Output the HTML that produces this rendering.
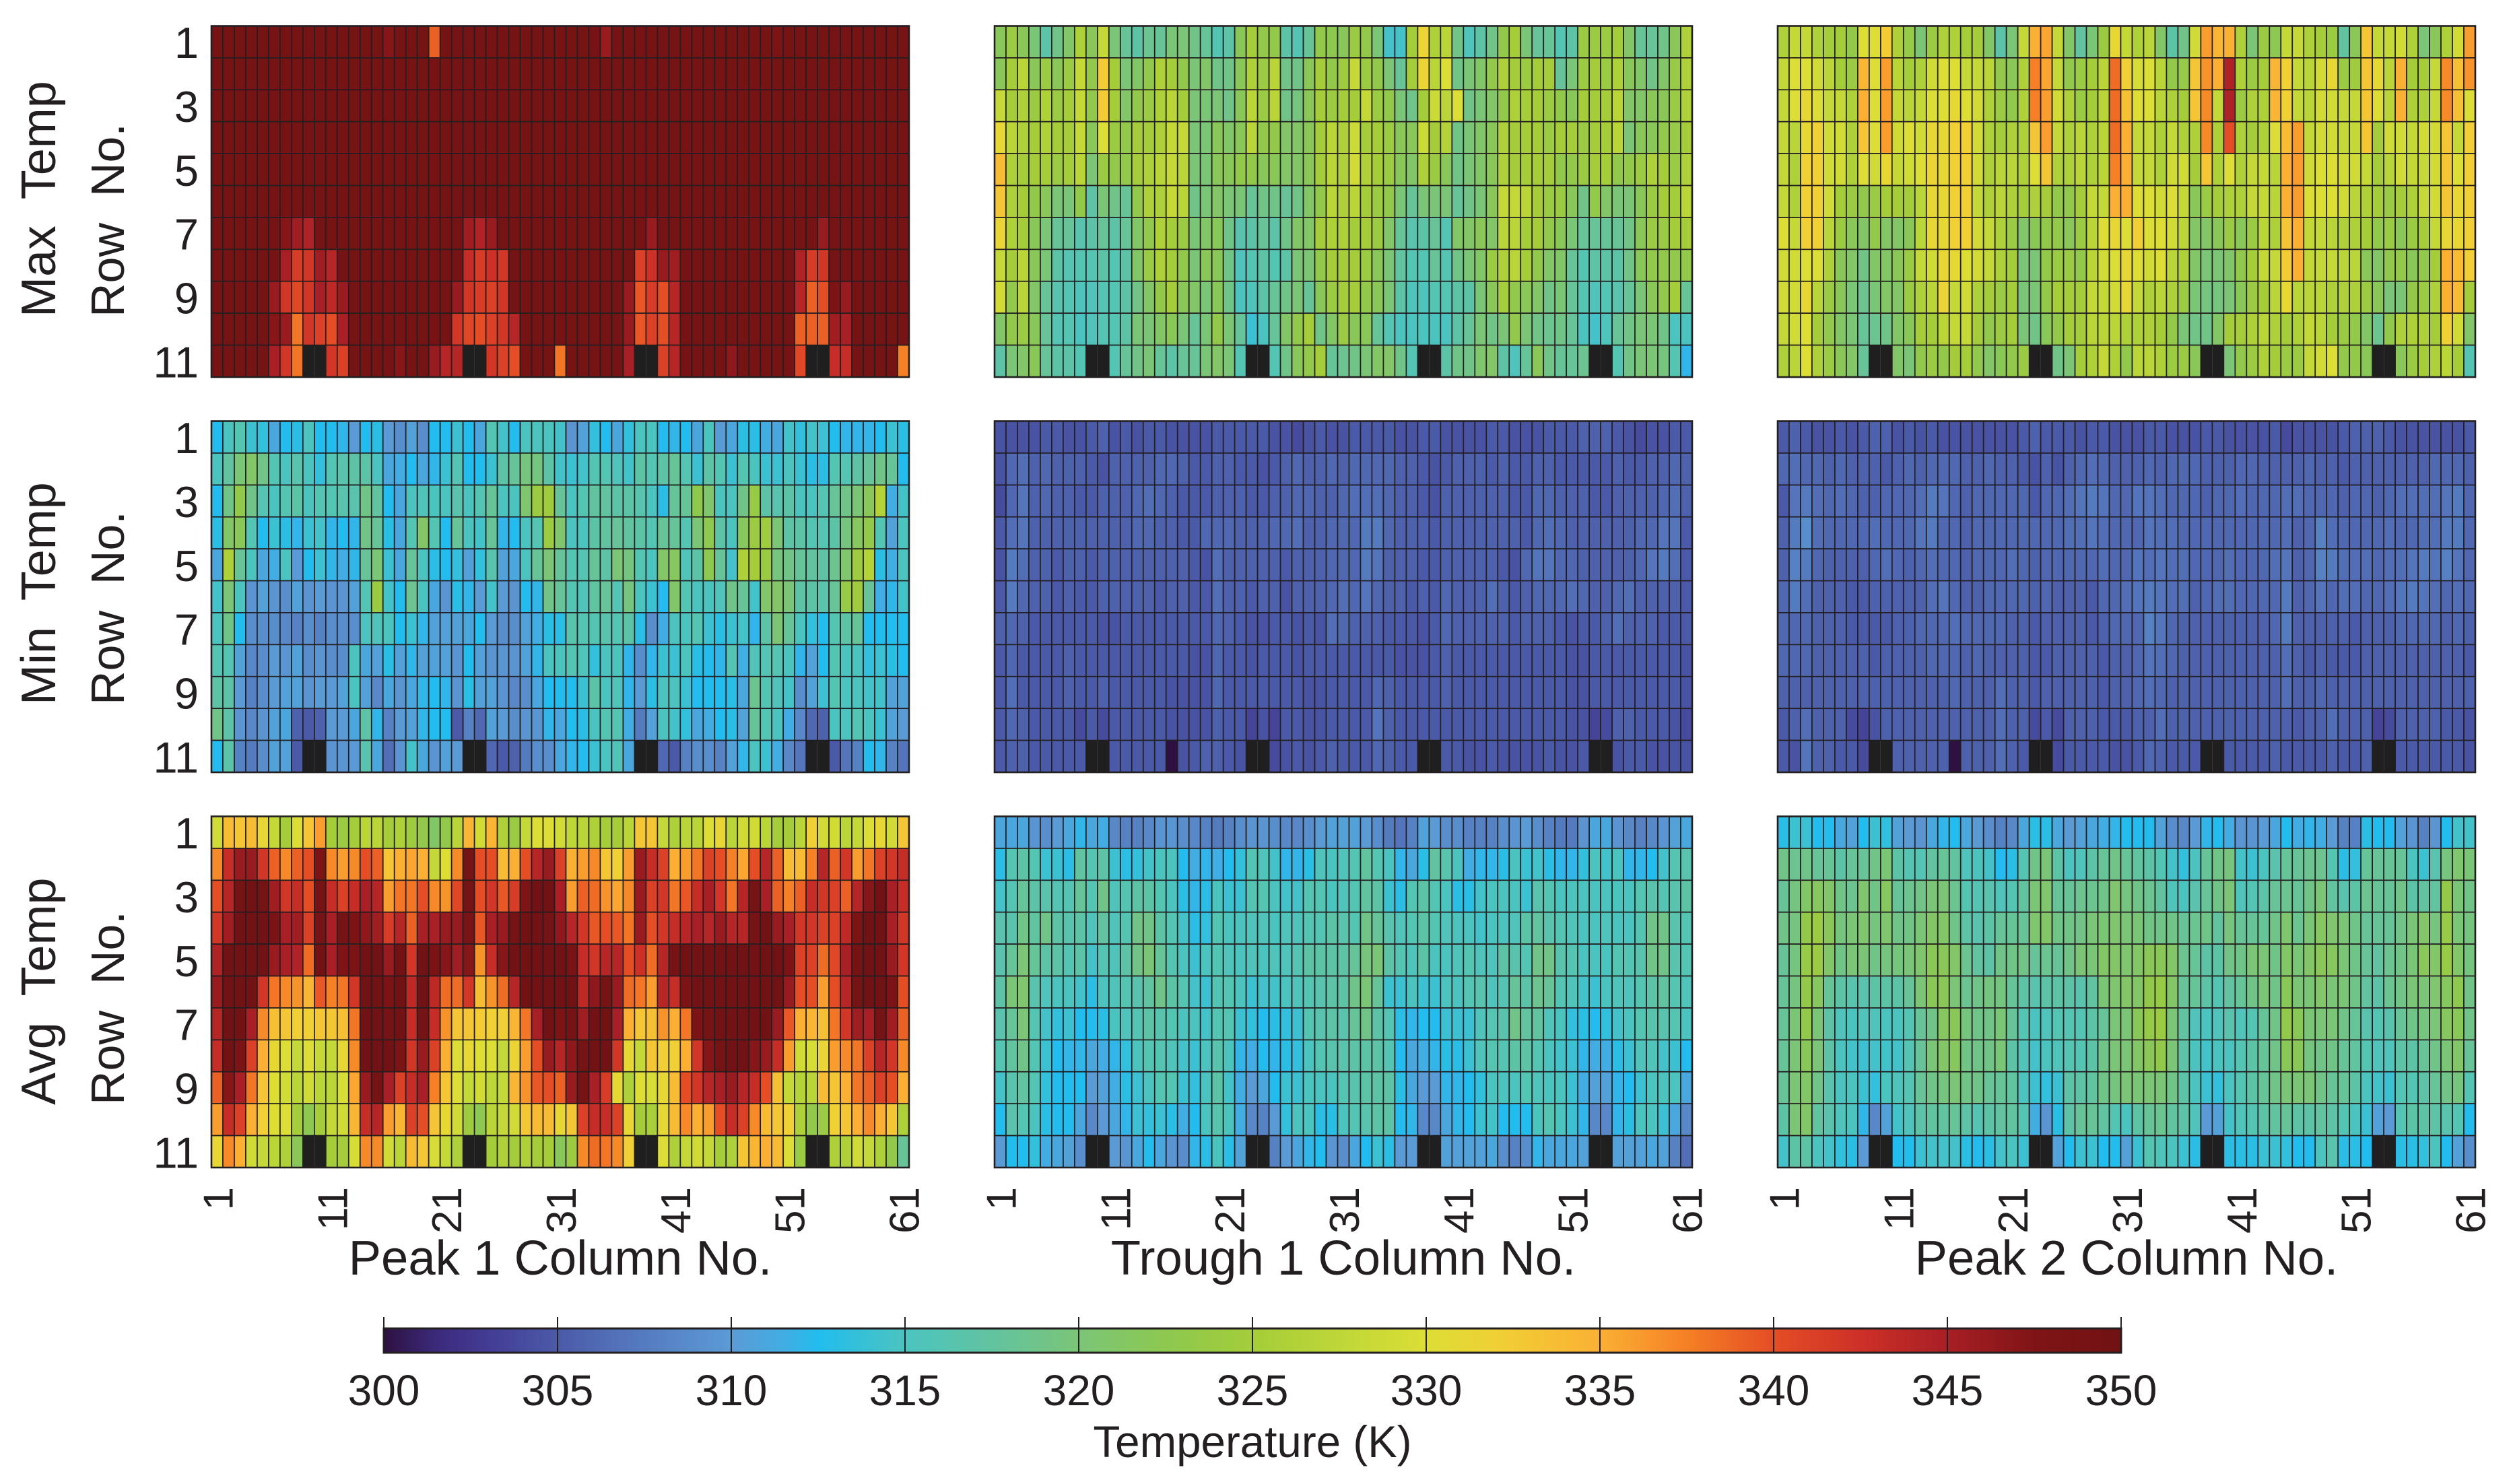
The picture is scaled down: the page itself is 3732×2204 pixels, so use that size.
<!DOCTYPE html>
<html lang="en">
<head>
<meta charset="utf-8">
<title>Temperature heatmaps</title>
<style>
html,body{margin:0;padding:0;background:#fff}
svg{display:block}
text{font-family:"Liberation Sans",sans-serif;fill:#231f20;white-space:pre}
</style>
</head>
<body>
<svg id="chart" xmlns="http://www.w3.org/2000/svg" width="3732" height="2204" viewBox="0 0 3732 2204">
<rect x="0" y="0" width="3732" height="2204" fill="#ffffff"/>
<defs><linearGradient id="cbar-gradient" x1="0" x2="1" y1="0" y2="0"></linearGradient></defs>
<g id="panels"></g>
<g id="labels"></g>
<g id="colorbar"></g>
</svg>
<script>
const rowTickLabels = [1, 3, 5, 7, 9, 11];
const columnTickLabels = [1, 11, 21, 31, 41, 51, 61];
const colorbarTicks = [300, 305, 310, 315, 320, 325, 330, 335, 340, 345, 350];
const columnTitles = ["Peak 1 Column No.", "Trough 1 Column No.", "Peak 2 Column No."];
const rowTitles = ["Max  Temp", "Min  Temp", "Avg  Temp"];
const colormap = [[300,"#2e1140"],[301.5,"#3b2a7c"],[303,"#433c94"],[305,"#4b5aa8"],[307,"#5475bb"],[310,"#5b9bd5"],[311.5,"#42ade2"],[312.5,"#22bdee"],[315,"#4bc4c0"],[317.5,"#62c3a0"],[320,"#7bc577"],[322.5,"#8dc850"],[325,"#a4cd39"],[327.5,"#bed738"],[330,"#dcde35"],[332,"#f0d035"],[335,"#fbb034"],[337.5,"#f58025"],[340,"#e54d25"],[342.5,"#cd3027"],[345,"#a81f25"],[347.5,"#7f1416"],[350,"#701213"]];

const maxPeak1 = [
[349,349,349,349,349,349,349,349,349,349, 349,349,349,349,349,347,349,349,349,339, 349,349,349,349,349,349,349,349,349,349, 349,349,349,349,346,349,349,349,349,349, 349,349,349,349,349,349,349,349,349,348, 349,349,349,349,349,349,349,349,349,349,349],
[349,349,349,349,349,349,349,349,349,349, 349,349,349,349,349,349,349,349,349,349, 349,349,349,349,349,349,349,349,349,349, 349,349,349,349,349,349,349,349,349,349, 349,349,349,349,349,349,349,349,349,349, 349,349,349,349,349,349,349,349,349,349,349],
[349,349,349,349,349,349,349,349,349,349, 349,349,349,349,349,349,349,349,349,349, 349,349,349,349,349,349,349,349,349,349, 349,349,349,349,349,349,349,349,349,349, 349,349,349,349,349,349,349,349,349,349, 349,349,349,349,349,349,349,349,349,349,349],
[349,349,349,349,349,349,349,349,349,349, 349,349,349,349,349,349,349,349,349,349, 349,349,349,349,349,349,349,349,349,349, 349,349,349,349,349,349,349,349,349,349, 349,349,349,349,349,349,349,349,349,349, 349,349,349,349,349,349,349,349,349,349,349],
[349,349,349,349,349,349,349,349,349,349, 349,349,349,349,349,349,349,349,349,349, 349,349,349,349,349,349,349,349,349,349, 349,349,349,349,349,349,349,349,349,349, 349,349,349,349,349,349,349,349,349,349, 349,349,349,349,349,349,349,349,349,349,349],
[349,349,349,349,349,349,349,349,349,349, 349,349,349,349,349,349,349,349,349,349, 349,349,349,349,349,349,349,349,349,349, 349,349,349,349,349,349,349,349,349,349, 349,349,349,349,349,349,349,349,349,349, 349,349,349,349,349,349,349,349,349,349,349],
[349,349,349,349,349,349,347,345.5,344.5,349, 349,349,349,349,349,349,349,349,349,349, 349,349,345.5,344.5,346,349,349,349,349,349, 349,349,349,349,349,349,349,349,346,349, 349,349,349,349,349,349,349,349,349,349, 349,349,349,346,349,349,349,349,349,349,349],
[349,349,349,349,349,349,345,341.5,342,345.5, 344,349,349,349,349,349,349,349,349,349, 349,349,343,341.5,342.5,342,349,349,349,349, 349,349,349,349,349,349,349,341,342.5,346, 345.5,349,349,349,349,349,349,349,349,349, 349,344.5,341.5,342,349,349,349,349,349,349,349],
[349,349,349,349,349,346,342,340.5,342,345, 343.5,346,349,349,349,349,349,349,349,349, 349,346,342,341.5,341,342,349,349,349,349, 349,349,349,349,349,349,346,339.5,341.5,340, 344,349,349,349,349,349,349,349,349,349, 349,344,339,340,348,346,349,349,349,349,349],
[349,349,349,349,349,347,346,338,342,341, 340,345,349,349,349,349,349,349,349,349, 349,342,340.5,340,341,342,344,349,349,349, 349,349,349,349,349,349,346,339.5,341,340, 344,349,349,349,349,349,349,349,349,349, 349,339,339,339,345.5,345,349,349,349,349,349],
[349,349,349,349,349,345,342,338,null,null, 342,341,349,349,349,349,347,349,349,346, 344,344,null,null,342,341,340,349,349,349, 338,349,349,349,349,349,345,null,null,341, 344,349,349,349,349,346.5,349,349,349,349, 349,340.5,null,null,343,343,349,349,349,349,337.5]
];

const maxTrough1 = [
[322,324,322,320,317,319,321,326,322,328, 320,318,317,318.5,318,320,320,319,318,316, 317,322,325,323,323,317,316,318,323,322.5, 322,324,323,320,314.5,314.5,325,331.5,326,327, 319,315.5,317,319,323,325,320,318,318,316, 317,324,324,324,325,321,318,318,319,322,326],
[322,325,327,322,324,322,324,328,323,332.5, 325,320,321,323,326,325,323,320,321,319, 319,322,326,324,327,319,319,322,325,323, 324.5,328,324,323,320,318,325,331.5,327,330, 319,320,321,323,326,325,324,325,325,318, 320,324,325,324,326,322,321,319,321,323.5,326],
[328,325,326,324,326,324,325,328,323,332.5, 325,321,323,324,326,327,325,320,320,320, 319,322,327,324,327,319,319.5,322,325,324, 325,325,328,324,323,320,319,325,328.5,327, 330,319,320,321,323,326,325,325,324,323, 322,325,325,325,327,321,321,322,322,324,326],
[331,327,326,325,326,325,325,328,322,330, 324,323,325,325,326,328,328,320,320,322, 321,322,327,323,323,321,321,322,325,327, 326,328.5,325,325,324,322,322,328.5,325,326.5, 319,320,321,322,326,325,325,325,324,325, 325,324,325,325,327,320,322,322,323,323.5,325],
[334,326,325,325,325,324,325,327,320,324, 323,323,325,326,327,328,327,320,320,322, 322,323,323,322,322,321,321,322,325,327, 326,329,326,325,324,322,321,326,324,322, 319,320,321,322,326,325,325,325,325,323, 323,324,325,325,323,323,324,326,325,324,326],
[333,326,325,323,322,320,320,323,317,320, 319,318,323,326,326,328,327,319,320,321, 320,320,318,319,319,318,319,321,323,327, 326,327,325,324,323,320,318,320,320,320, 318,319,320,322,328,328,327,325,324,324, 322,319,323,321,320,320,322,324,325,325,327],
[331.5,326,325,322,320,318,318,316.5,317,318, 317,318,321,323,326,325,324,320,321,322, 319,316.5,317,318,317,319,321,321,325,326, 326,325,325,324,321,318,316.5,317,318,316, 321,321,322,321,327,327,325,325,323,322, 320,318,318,318,318,319,322,324,324,325,325],
[328,325,327,322,320,317,316,316,316,317, 316,317,321,324,326,325,323,320,322,322, 319,315.5,316,317,316,317,320,320,323,325, 325,325,324,322,320,317.5,316,316,318,316, 319,320,321,324,326,327,325,323,321,321, 318,316,317,317,317,319,322,323,323,323,323],
[329,323,327,321,318,316.5,316,315.5,315.5,316, 316,317,319,321,323,325,322,321,320,322, 319,315,315.5,317,318,319,320,318,322,324, 325,325,323,322,320,317,315.5,315.5,316,316, 317,317,320,322,325,323,322,321,319,320, 318,316,315.5,316,316.5,318,320,322,323,325,318],
[321,323,324,322,318,316,316,315,315.5,316, 316,317,320,320,321,322,320,318,320,323, 320,318,314,315,318,321,323,325,319,321, 324,322,322,318,316,315,315,315,315,315, 317,318,320,319,320,323,320,319,318.5,319, 318,315,314.5,315.5,318,319,320,320,319,315,315],
[317,320,321,322,318,317,317,316,null,null, 316,318,319,320,318,317,318,318,320,321, 320,316,null,null,316,319,322,323,325,318, 318.5,319,320,321,321,319,316,null,null,317, 319,319,320.5,321,317,315.5,318,322,319,318, 318,318.5,null,null,316,319,320,320,319.5,316,312]
];

const maxPeak2 = [
[326,328,328,326,325,325,323,330,330,332.5, 326,323.5,320,324,326,326,325,325,321,317, 320,328,335,335.5,328,321,317.5,320,324,331, 328,326,327,321,317,319,329,336,334.5,335, 326,320,324,322.5,328,328,326,325,324,317.5, 322,333,328,328,329,326,320,322,326,329,336],
[328,330,330,329,327,325,324,334.5,330,336, 327,325,326,329,330,330,328,328,327,323, 322,326,337.5,335.5,328,323,324,325,327,338.5, 332,329.5,330,327,323,323.5,333,336.5,335,344.5, 326,324,325,334.5,332,328,327,329,331,324, 324.5,333,331,327,335,325,325,328,337,333.5,336.5],
[328,330,331,330,328,328,326,335,330,336, 328,327,328,330,330,331,330,329,326,324, 323,326,337.5,336,329,326,324,325,327,338.5, 333.5,330,330,327,326,325,333,337,328,344.5, 324,326,326,334.5,332,328,327,329,329,328, 328,333,330,327,335,326,326,328,337,333.5,330],
[328,327,331,332,329,329,326,333,330,336, 329,330,329,331,331,332,332,329,326,325, 326,326,333,336,328,326,327,326,327,338.5, 335,328,328,326,328,326,326,337,326,340, 326,325,326,330,334,336,328,329,329,328, 328,333,325,329,329,328,329,329,333,328,332],
[328,326,332,332,329,329,326,330,329,331, 328,329,330,331.5,331,332,332,329,326,327, 327,326,330,333,326,326,327,326,327,337.5, 335,328,328,326,329,329,325,333,326,330, 326,328,328,327,335,336,329,330,330,329, 329,328,325,327,329,328,328,329,333,330,332],
[328,326,332,332,329,325,324,323,324,325, 325,325,327,331,331,332,332,328,326,327, 326,325,326,325,323,323,325,328,328,335, 335,330,330,329,330,328,322,324,325,326, 326,328,328,327,335,336,330,330,330,329, 327,326,325,324,325,326,328,329,333,331,332],
[330,328,332,332,327,324,322,321,323,321, 321,322,327,331,331,332,332,329,328,326, 324,321,322,323,323,322,324,327,330,331, 330,332,330,330,329,327,321,321,322,324, 322,324,327,326,333,335,328,328,327,326, 326,325,323,324,322,324,325,328,331,331,332],
[329,329,330,330,326,322,321,319,321,321, 322,324,328,329,331,331,330,329,328,326, 325,320,320,323,324,324,323,327,329,330, 331,330,329,330,327,326,321,320,320,321, 323,325,328,328,332.5,335,328,328,328,327, 327,322,321,323,323,322,323,325,335,334,332],
[329,329,331,327,324,322,320,318.5,320,321, 321,324,326,327,331.5,328,329,326,325,324, 325,320,320,323,325,325,325,328,328,329, 331,328,326,327,326,324,320,319.5,319.5,320, 322,324,325,327,331,327,327,327,326,326, 326,324,322,320,320,323,324,326,335,334,325],
[328,329,330,325,323,321,320,318,318.5,319, 321,322,325,325,327,328,328,325,323,324, 325,320,319,322,323,325,325,327,327,327, 326,326,326,325,323,320,319,319,321,325, 325,326,327,326,325,326,328,327,325,324, 323,321,318.5,323,326,326,326,325,332,329,321],
[326,327,330,326,324,322,321,318,null,null, 321,320,323,324,323,325,325,323,321,322, 323,324,null,null,319,320,325,326,328,326, 323,327,327,326,324,324,322,null,null,320, 323,324,326,325,324,324,328,329,330,323, 323,322,null,null,322,324,325,326,327,325,316]
];

const minPeak1 = [
[312.5,315,316,314,313.5,311,312.5,313,315,312.5, 312.5,312,310,312.5,313,310,309,310.5,309,312.5, 312.5,314,312.5,311,316,314.5,312.5,315,315,315, 314.5,309.5,310.5,313.5,312.5,311,313.5,315,315,312.5, 312,312.5,311,315,310,311,313,313,311.5,311, 314.5,313.5,314.5,314,312.5,312,312,312,312.5,314,313],
[315,317.5,320,321,319,316,315,316.5,315,313.5, 316,316.5,317,317,315,311,311.5,312.5,311,312, 314,316,312.5,312.5,314,317,318,319.5,319.5,317, 314.5,314,314.5,316,316,315.5,314.5,317,316,317, 318,316,314,317,316,314,316,315,314,314, 315,314,313,313,316,316,317,318,319,318,312.5],
[312.5,319,323,319,316,315,316,317,315,316, 316,316.5,316.5,319,317.5,312.5,311,315,315.5,315, 315,316.5,315,316,318,315,315,320.5,324,324.5, 318,315,316,317.5,317.5,317,317,316.5,315,313, 318,318,322.5,320.5,315,315,319,323.5,317,316.5, 317,315,315,316,318,319,320,322,326.5,311.5,314.5],
[313,321,322,316,312.5,314,313,312,314,314.5, 312,312.5,312,319,318,313,311,316,321,316, 312.5,318,315,314.5,318,312,312.5,315,316,324, 320.5,315,315,317,317.5,318,317.5,317,316,318, 318,316,320,322.5,317,315,321.5,324,324.5,320, 317,317,316,316,317,319.5,321.5,323,316,310.5,315],
[311,326,318,315,311,311.5,315,310,312.5,314, 312,311.5,312,318,320,314,311,318,315,313, 312.5,313.5,310.5,313.5,316.5,310.5,311,315,318,320, 318,316,316,318,317,320,319.5,316,315,321, 321.5,315.5,317,322.5,318,314.5,326,325,324,319.5, 319,318,317.5,317,318.5,320.5,324.5,326.5,313,311.5,315],
[314.5,320,315,309.5,310.5,309.5,309,310.5,309.5,310, 309.5,309.5,310.5,316,324,314.5,312.5,318.5,315,311, 309.5,313,312,310,314.5,310,309.5,312.5,312,319, 318,316,315.5,317.5,318,316,319.5,315,314,312.5, 321,316,315,315,315.5,319,318,314.5,321,321, 320,317,317,316.5,318,323.5,324.5,318,311.5,312,314.5],
[315,319,312.5,309,309,309,308.5,308,309,308, 309,309,309,315,315.5,315,312.5,314,312,310.5, 310.5,310.5,311,312.5,310,309,309,310.5,311.5,313, 313,316.5,316,316,316.5,316,317,313,309,311.5, 315,315,316,314,313,314,314.5,312,317,320, 318,315,313.5,312.5,316,317,318,312.5,312.5,312.5,312.5],
[316,316,310.5,308.5,309,310,309.5,310.5,309,309.5, 309,309,315,311,310.5,313,310.5,312,310.5,310.5, 310.5,309.5,312.5,310.5,309.5,309.5,309.5,310.5,312,315, 315,316,315.5,313.5,315,315,312,309,312,314, 314,315,313,312.5,312,316,311.5,315.5,316,316, 315,312,310.5,312.5,316,315,315,313.5,314,313,312.5],
[317,317,310,308,309,310,310.5,310.5,309.5,310, 310,310.5,315,310.5,308.5,311,309.5,311,312,312.5, 312,309.5,313,310.5,310.5,309.5,308.5,309,311,312.5, 312.5,312.5,314,317,315,315.5,312,310,313,315, 315,314,312.5,312.5,312.5,313,311,318.5,316,315.5, 314.5,309,310.5,314,316,315,315,314.5,314.5,310.5,310.5],
[319,317,309.5,308.5,309.5,310.5,311,305.5,305,305.5, 310,310,311,317,312,308,310,310.5,312,312.5, 312.5,305,308,306,310.5,310,309,309.5,309.5,312, 311,312.5,313,315,316,316,311.5,307.5,310.5,315, 314.5,313.5,311,311.5,312.5,313,310.5,318,316,315, 311.5,308.5,306,305.5,315,315,316,315,314,310.5,310],
[312.5,317,308,307.5,309,310.5,310.5,305,null,null, 309.5,309.5,310,316.5,311,306.5,309.5,314.5,311,309.5, 310.5,310,null,null,306,305,305.5,307.5,309,309, 311,312,312.5,314,315,315.5,311,null,null,306, 305,308,309,309,308,310.5,312,315,314,311.5, 308.5,307,null,null,305,307,308,312.5,312,308,307]
];

const minTrough1 = [
[304.5,304.5,304.5,304.5,305,305,304.5,304.5,305,305.5, 304.5,305,304.5,305,305,304.5,304.5,304.5,304.5,305, 305,305,305,305,304.5,304.5,304,304.5,305,304.5, 304.5,305,305,305,305,304.5,304.5,305,305,304.5, 304.5,304.5,304.5,305,305,304.5,304.5,304.5,305,305, 305,305.5,305.5,305.5,305,304.5,304,304.5,304.5,305,305],
[304.5,306,306.5,305.5,306,305.5,305.5,305.5,305,304.5, 305.5,305.5,305.5,305.5,306,306,305.5,305,305,305.5, 305.5,305,305,304.5,305,305.5,306,305.5,305.5,306, 305.5,306,306,306,306,305.5,305.5,305,304.5,305, 305.5,305.5,305.5,305,305.5,305,305,305.5,305.5,305, 305,305,305,305,305.5,305,305,305.5,305.5,306,305.5],
[304,306,307,305.5,306,305.5,305.5,305,305,305.5, 305.5,305.5,306,306.5,306,305.5,305,305,305,305.5, 305.5,305.5,305,305,305.5,305.5,306,306,305.5,305.5, 306,306.5,306.5,306.5,306,305.5,305.5,305,304.5,305.5, 305.5,305.5,305.5,305.5,305.5,305,305,306,306,305.5, 305.5,305.5,305,305,305.5,305.5,305.5,305.5,306,306.5,305.5],
[305,306.5,307,305.5,305.5,305.5,305.5,305.5,305.5,305.5, 305.5,305.5,306,306,305.5,305.5,305,305,306,306, 306,305.5,305.5,305.5,306,306,306.5,305.5,305.5,306, 306,306,307.5,307.5,306,305.5,305.5,305.5,305,305.5, 305.5,305.5,305.5,305.5,305.5,305.5,305,306,306.5,306, 305.5,305.5,305.5,305.5,305.5,305.5,306,306,307,307,305],
[304.5,307.5,306.5,305.5,305.5,305,305.5,305.5,305,305.5, 305.5,305.5,305.5,305.5,305.5,305.5,305.5,305,304.5,306.5, 305.5,305.5,305.5,305.5,305.5,305,305.5,305.5,305.5,306, 306,306,307.5,307,305.5,305.5,305.5,305,305,305.5, 305.5,305.5,305.5,305.5,305,304.5,306,307,307,306, 306,305.5,305.5,305.5,305.5,305.5,306,307,307.5,306.5,305],
[305,307.5,306,305.5,305.5,305,305.5,305,305,305.5, 305.5,305.5,305.5,305.5,305,305.5,305.5,305,305,306.5, 305.5,305.5,305,305.5,305.5,304.5,305.5,305.5,305.5,306, 306.5,306,307,306,305.5,305.5,305,305.5,305,306, 305.5,305.5,305.5,306.5,305.5,305,305.5,306,306,306, 306.5,306,305.5,305.5,306,306.5,305.5,305.5,305.5,305.5,305],
[305.5,306,305.5,305,305,305,305,305,305,304.5, 304.5,305,305,305,305,305,305,305,305,306, 305.5,305,304.5,304.5,305,305,304.5,305,304.5,306.5, 306,305.5,305.5,305.5,305,305,305,304.5,305,306, 305.5,305.5,305.5,305.5,305.5,305,305.5,305.5,305.5,305, 304.5,305,305,305.5,306.5,305.5,305.5,305.5,305,305,305],
[305,306,305,305,305,305,305.5,305,305,305, 305,305,305,305,305,305,305,304.5,304.5,306, 305,305,304.5,305,305,305,304.5,305,305,305, 305,305,305,305,305,304.5,304.5,304.5,305,305.5, 305,305,305,305,305,305,305,305,305,305, 304.5,304.5,305,305,305,305,305,305,305,305,304.5],
[305,306.5,305,305,305,305,305.5,305,305,305.5, 305,305,305,305,305,304.5,304.5,304.5,304.5,306, 305,305,305,305,305,305,305,304.5,304.5,305, 305,305,305,306,305.5,305,305,305,305,305.5, 305,305,305,305,305,305,305,305,305,305, 304.5,304.5,305,305,305,305,305,305,305,305,304.5],
[305,306,305.5,305,305,305,305,304,305,304, 305,305,305,305,305,304.5,304.5,304.5,304.5,305.5, 305,305,303.5,304.5,303.5,305,305,304.5,304.5,305, 305,305,305,307,305.5,305,305,305,305,305, 305,305,305,305,305,305,305,305,305,305, 304.5,304.5,303.5,304,305.5,305.5,305,305,305,304.5,304],
[305,305.5,305.5,305,305,305,305,305,null,null, 305,305,305,305,305,300,304.5,305,305.5,305.5, 305,304.5,null,null,304,304.5,305,304.5,305,305.5, 305,305,305,306,305.5,305,305,null,null,305, 305,304.5,304.5,305,304.5,304.5,304.5,304.5,305,304.5, 304.5,305,null,null,304.5,305,305,304.5,304.5,304.5,304.5]
];

const minPeak2 = [
[305,305.5,305,304.5,304.5,305,304.5,305,305.5,305.5, 304.5,305,304.5,305,304.5,304.5,304.5,304.5,304.5,304.5, 304.5,305,305.5,305,305,305,304.5,305,305,304.5, 304.5,304.5,305,305,304.5,304.5,304.5,305,305,304.5, 304.5,304.5,304.5,305,304,304.5,304.5,304.5,304.5,305, 305.5,305.5,305.5,305,304.5,304.5,304.5,304.5,304.5,304.5,305],
[306,306.5,306,306,305.5,306,305.5,305.5,305.5,305, 305.5,306,305.5,306,306,306,305.5,305.5,306,305.5, 305.5,305,304.5,305.5,304.5,305.5,306,306.5,306,305.5, 305.5,305.5,306,305.5,306,306,306,305.5,305.5,305.5, 306,306,305.5,305.5,305.5,305.5,306,305.5,305.5,305, 305.5,305.5,305.5,305.5,305.5,305.5,305.5,306,306,306,305.5],
[305,307,307.5,306.5,306,306.5,306,305.5,305.5,306, 306,306,306.5,307.5,307,306,305.5,306,306,306, 306,306,305,306,306,306.5,307,307.5,307,306, 306,307,307,306.5,306,306,306,305.5,306,306, 306.5,306,306,306,306.5,306.5,306,306,306,305.5, 306,306,305.5,306,306.5,306.5,306.5,306.5,307,307.5,306],
[305.5,307.5,309,306.5,306,306,306,306,306.5,306, 306,306,307,307.5,306,306,305.5,306,306,306, 306,306,306,306,306,306.5,306.5,307,306.5,306, 306,306,307,306.5,306.5,306,306,306,306,306, 306,306,306,306,306.5,305.5,306,308,306.5,306, 306,306,306,306.5,306,306,306.5,306.5,307.5,307.5,306],
[305.5,308,307.5,306,305.5,305.5,305.5,305.5,306,306.5, 306,305.5,306,306.5,306,306,305.5,306,306,306, 306.5,306,305.5,306,306,306,306,306,306.5,306, 306,307,306.5,307,306.5,306.5,306,306,306,306.5, 306,306,306,306.5,307,305.5,306,308,307.5,306.5, 306.5,306.5,306,306.5,306.5,307,307.5,307,308,307,306],
[306,307.5,306.5,305.5,305.5,305.5,305,305,305.5,305.5, 305.5,305.5,305.5,306.5,307,306,305.5,305.5,306,306, 306,306,305.5,306,305.5,305.5,305.5,305,306,306, 306.5,307,307.5,307,306.5,306.5,305.5,306,306.5,306.5, 306,306,306,306,307.5,305.5,306,307,306,306.5, 306.5,306,306,306.5,307,307.5,307,306.5,306,306.5,306],
[306,306,306,305.5,305.5,305.5,305,305,305,305, 305.5,305.5,306,306,306,306.5,306,306,306,306, 305.5,305.5,305,305.5,305.5,305.5,305.5,305,305.5,306, 306,306,308,307,306,305.5,305.5,305.5,305.5,305.5, 305.5,305.5,305.5,306,307.5,305.5,305.5,305.5,305.5,305.5, 305,305.5,305.5,305.5,306,306,306,306,305.5,306,305.5],
[306,306,306,305.5,305.5,305.5,305.5,305.5,305,305.5, 305.5,305.5,305.5,306,306,306,305.5,306,305.5,305.5, 305.5,305.5,305,305,305.5,305.5,305.5,305.5,305,305.5, 305.5,306,307,306.5,306,305.5,305.5,305.5,305.5,305.5, 305.5,305.5,305.5,305.5,306.5,305.5,305,305.5,305,305, 305,305.5,305.5,305.5,305.5,305.5,305.5,305.5,305.5,305.5,305],
[305.5,305.5,305.5,305.5,305.5,305.5,305.5,305.5,305.5,305.5, 305.5,305.5,305.5,305.5,305.5,306,305.5,305.5,305.5,306.5, 305.5,305.5,305,305.5,305.5,305.5,305.5,305.5,305,305.5, 305.5,306,306.5,306,305.5,305.5,305.5,305.5,305.5,305.5, 305.5,305.5,305.5,305.5,306.5,305.5,305.5,306,305.5,305.5, 305.5,305.5,305.5,305.5,305.5,305.5,305.5,305.5,305.5,305.5,305.5],
[305,305.5,306.5,305.5,305.5,305.5,304,303.5,304.5,305.5, 305.5,305.5,305.5,305.5,305.5,305.5,305.5,305.5,305.5,306.5, 305.5,305.5,304,305,304,305.5,305.5,305.5,305,305, 305,305.5,305.5,306.5,305.5,305.5,305.5,305.5,305.5,305.5, 305.5,305.5,305.5,305.5,305.5,305,305.5,305.5,306.5,305.5, 305.5,305.5,303.5,304,305.5,305.5,305.5,305.5,305,305,304.5],
[305,304.5,307,305.5,305.5,305,305,304,null,null, 305.5,305.5,305.5,305.5,305.5,300,305.5,305.5,305.5,306.5, 305.5,305,null,null,304,305,305,305,305,304.5, 304.5,305,306,305.5,305,305,305,null,null,305, 305,305,305,305.5,305,305,305,305,305.5,305, 305,305.5,null,null,305,305,305,305,305,305,304.5]
];

const avgPeak1 = [
[329,334,333,334,331,328,325,330,333,336, 325,324,325,327,327,325,326,324.5,323,321, 323,327,334.5,329,334.5,326,324,328,330,330, 329,327.5,327,326,325,325,327,333,333,328, 326,327,327,330,331,327,329,329,327,325, 325,327,332,329,329,327,328,330,331,329,333],
[337,343,346,346,342,339,337,339,340,348, 337,336,337,340,339,333,335,335.5,335,328, 330,337,349,340,340,334,335,340,344,346, 341,335,336,337,333,332,336,346,343,341, 335,336,338,341,340,337.5,335.5,340,344,339, 334,334,337.5,344,339,342,336,338,341,342,343],
[340,344,349,349.5,349,345.5,342,343,340,349, 343,341,343,345,344,336,338,338,340,337, 336.5,340.5,349,340,342,339.5,341.5,347.5,349.5,349.5, 345,336,339,338.5,336.5,335.5,337,346,341,342, 338,339.5,343,345,342,338,344,349,345,339, 337.5,339,343,342,341,339,344,347,349.5,345,343],
[342,345.5,349.5,349.5,349.5,348.5,345,345.5,341,349, 345,349,348,346.5,345.5,341.5,344,339,345,345, 346,346,348.5,339.5,345,346,349,349.5,349.5,349, 346.5,344,342,339.5,340,339.5,338,346,340,342, 343,344,345,344,346,344,344,349,349.5,346, 345,342,342,341,341,343.5,348,349.5,349.5,345,342],
[344.5,349.5,349.5,349.5,349.5,346,345,344.5,338.5,349.5, 345,347.5,348,349.5,349.5,346,349.5,342,349.5,348.5, 347,345.5,347,336.5,343,347,349.5,349.5,349.5,349.5, 349.5,348.5,343,342,344,344,340,342.5,338.5,344, 349,349.5,349.5,349.5,349.5,349.5,349.5,349.5,349.5,349.5, 348,341,341,338.5,340.5,345,349,349.5,349.5,346,342],
[346,349.5,349.5,349.5,342,338,337,336.5,334.5,339.5, 337.5,338,342,349.5,349.5,348,349.5,343.5,349.5,343.5, 338.5,338.5,342,334,336.5,338.5,344,349.5,349.5,349.5, 349.5,349.5,343.5,346.5,349,346,338.5,338,336,344, 343,348,349.5,349.5,349.5,349.5,349.5,349.5,349.5,349.5, 346,340,340,336,340,344,349,349.5,349.5,348,340],
[344,349.5,349.5,345,337,333.5,333,332,332,333, 333,333.5,338,349.5,349.5,349,349.5,343,349,343, 336.5,333,333,332.5,332,332,334.5,338,345,349.5, 348,349,345.5,349.5,349.5,345,335,333,333.5,336.5, 335,338,348,349,349.5,349.5,349.5,349.5,349.5,346, 339.5,335,334.5,333.5,338,342,345.5,345,349,345.5,339],
[343,349.5,348,341,335,331,330,328,330,328, 328,331,337,349.5,349.5,349.5,348,342,346,341, 335,330,331,330,330,328,331.5,336,340,346, 344,346.5,349,349.5,349.5,342,331,328,333,332, 332,335,342,347,349,349.5,349.5,347,346,343, 336,329,329.5,331.5,336,337,338,341,344,342,337],
[339,347,345,338,333,330,329,327,329,327, 327,329.5,335.5,346,349,345,341,343,345,337.5, 333,330,328,329,327.5,328,334.5,336.5,339.5,340, 339,346,349,345,341.5,331,326,330,329.5,331, 334,340,342,344,345,346,344,343,340,333.5, 328,326.5,327,334,333,335,338,339,341,340,335],
[336,343,341,335,332,330,330,325,322.5,325, 328,329,334.5,343,344,336,334.5,341,340,333, 331,329,324.5,322.5,327,328,329,333,334,334, 331,333,341,343,343,341,331,325,325.5,331, 334,337,335,336,340,343,341,337,334,333, 332,326,323,324,332,333,335,337,335,333,326],
[331,337,335,329,328,327,326,322,null,null, 325,325,329.5,337,337,329,327,334,333,329.5, 328,326,null,null,325,326,325,326,325,325, 322,324,337,338.5,338,337,332,null,null,330, 326,328,329,328,325,326,333,334.5,335,334, 330,324,null,null,326,326,329,328,326,323,318]
];

const avgTrough1 = [
[311,311,311,309.5,309,310,311,312,311,311.5, 308.5,308,308,308.5,309.5,309.5,309,308.5,308,307.5, 308,309,309.5,309.5,309,308.5,308.5,309,310,310.5, 310.5,310.5,310,309,307.5,307,308,310.5,310,309, 309,308,308,308,309,309.5,310,309,308,307.5, 307.5,309.5,311,311,309.5,308.5,308,308.5,309.5,310.5,311],
[313,316,317,316,314,314,313,317.5,316,317, 314,313,313.5,314.5,315,315,312.5,311.5,312,311.5, 312.5,313.5,316,315.5,314.5,312,312,313,315.5,315, 315.5,316,317.5,316,315,312,311,313,317.5,316.5, 315,311.5,312,312,313,315,314,314.5,313,312, 312,313.5,315,314.5,315,312,312,312.5,314.5,316,316.5],
[314.5,316,318,317,316.5,316,316,318,316,319, 315.5,316,317,317,316,315,313,312,313,315, 314,314,316,316,315,314.5,314.5,316,316,315, 315.5,316,317.5,317,314,313,316,317,316,315, 313,313,314.5,315,315,315,314,316.5,316,315, 315,315,315,315,315,315,316,316.5,316,316.5,317],
[316.5,316.5,319,317.5,319,317,316.5,317,315.5,317.5, 315.5,316,319,319,317,316,314.5,313,313.5,316, 315,315,315.5,315.5,315,315.5,315.5,316,316,317, 316.5,316,319,318,316.5,315.5,316,317,316,315.5, 315,315,314.5,315,315,315.5,317,317.5,316.5,316, 315.5,315,315,315.5,315,315,316,319,319,316.5,316],
[316.5,318,320,318,317,317,316,317,314.5,316, 315.5,317,319,320,318,316,315,314,315,316, 315.5,315,315.5,315,315.5,315.5,316,317,317,317, 317,318,319.5,320,317,316,315.5,317,315,315, 315.5,316,315.5,315.5,317,316.5,316,319,319,316.5, 316,315,315,315,316,316,316.5,319,319,316.5,316],
[317,320,320.5,316.5,315.5,315,315,314.5,313,315, 315.5,316,316.5,317.5,319,317,316,314.5,314,316, 316,315,314,314.5,314.5,315,315.5,316,316.5,317, 317,319,320,318,314,314,315,314,314,315, 315,316,316.5,315.5,316,318,317,318.5,318,316, 315.5,314.5,314,315,315.5,315.5,316,317,317.5,316,315.5],
[316.5,318,320,316,314.5,313.5,314,312.5,312.5,313, 315,315.5,316,317,316.5,316,315,315,314.5,316, 316,314,313.5,312.5,313,313.5,314,316,316.5,317, 316.5,318,319,317,316,313,312,312.5,312.5,314, 314,314,315.5,316,316.5,319,317.5,317.5,315.5,315, 313.5,313,312.5,313.5,314.5,315,316,316.5,316.5,316,315],
[316,317.5,319,316,314,312.5,312,312,311,311.5, 312,313.5,315,316,316,315.5,314.5,314,315,316.5, 315,312,311.5,312.5,312,313,313.5,315,316,316.5, 316.5,317,317,317,316,312.5,311,311.5,312,313, 313,314,315.5,316,316,317,317,316,315,314.5, 314,312,311.5,311.5,313,314,315.5,315.5,314.5,314,312.5],
[314.5,316.5,317.5,316,313.5,312.5,312.5,312.5,310,310.5, 311.5,313,314,315,316,316,314,313.5,315,317, 314.5,311.5,310,311,312.5,314,314,315,315,315, 316,316.5,317,317,317,313,311,310,310,312, 312,312.5,313.5,315,315,315,316,315.5,315,315, 314,311.5,310.5,310.5,312,312.5,314,315,315,315,311],
[312.5,316.5,316,315,313,312.5,312.5,311,308.5,310, 311,312,314,313.5,314,313,311.5,312.5,315,316.5, 315,311.5,308.5,308,310,313.5,315,315,313,313, 315,316,316.5,317,317,312.5,312,308.5,308.5,311, 312,312.5,314,314.5,312.5,312.5,312.5,315,316,315, 314,312,308.5,308.5,312,313,315,315,314,311,308.5],
[310,312.5,312.5,313.5,311.5,311,310.5,309,null,null, 310,309.5,311,312.5,311,309.5,309,312,313,315, 313,310.5,null,null,308,310,311,312,312.5,309.5, 309,311,312.5,314,313,310,310,null,null,310.5, 310.5,310.5,310.5,311,309,308,309,312,311,311, 311,310.5,null,null,310.5,310.5,310.5,311,310.5,308,306.5]
];

const avgPeak2 = [
[313,314,314,312.5,312.5,311,310.5,312.5,314,313.5, 310.5,310,309.5,311,312,312.5,311,310,309,308, 308.5,311,313,313,311,310,310.5,311,311.5,312, 312.5,312.5,312.5,310.5,309,308.5,310,312,312.5,311.5, 309.5,309.5,310,311,312.5,311.5,312,311.5,310,308, 308,313,312.5,312.5,310.5,309.5,308,309.5,312.5,314.5,314.5],
[319,318.5,319,318,318,317,318,318,319,320, 317,316,316,317.5,318,317.5,315.5,315,314.5,312.5, 313,316,319,320,317,315,315.5,317,318,319, 318,317.5,317,316,314.5,313.5,315,318,319,319.5, 314.5,314,315,316.5,318,318,318.5,318.5,316,313, 313.5,318,318,318,318,315,314,316.5,319.5,320.5,320],
[318,319.5,321,321.5,321,319,318.5,320.5,319,321.5, 318,318.5,319,320,320,318.5,316,316,316.5,315.5, 316,317.5,320,320.5,318,318,318.5,318.5,319,320.5, 319.5,319,318.5,317.5,315.5,315,316.5,318,319,320, 315.5,316,317,318,318.5,318,319,320,317.5,316.5, 317,318.5,318,318,319,317,317.5,317.5,323,320,319],
[319,319.5,323,324,322,319.5,320,320.5,319.5,320.5, 319,319,320,321,321,319,317,316.5,317,318, 318,318,320.5,321,319,319,319,320,320,320.5, 320,320,319,319,319,318,318.5,319,317.5,319.5, 318,318,318,319,320.5,318.5,320,321.5,320.5,320, 319,318,318,318,319,320,321,319.5,323.5,320,319.5],
[318,319.5,323.5,324,321,319,320,320,319,319.5, 319.5,320,320.5,322,322,321,318.5,317.5,317,319, 319,319,318,318.5,318,319,320,320,321,321, 320.5,321,322,322,321,318.5,318,317,317,319, 319,320,320,319,321,320,321,322,321.5,320, 319,318,317.5,318.5,319,320,322,321,323.5,321,319.5],
[318,319.5,323,321.5,318,317,316.5,316.5,317,317, 317,318,320,322,322,320,318.5,319,319.5,319.5, 318,317,316.5,317,317,317,316.5,317.5,320,320.5, 321,321,323,323.5,321,318,318,317,316,317.5, 318,319,320,319,322,320,320,321,320,320, 319,317.5,317,318.5,319,320,320,320.5,321.5,322.5,319],
[318,320,323,320,317,315.5,315,315.5,315.5,315, 315,316,318,319,321.5,322,319.5,319,319,320, 318,316,315,315.5,316,316,316,317,318,320, 320,322,323.5,324,320,317.5,315.5,315,315.5,316.5, 315.5,316,318,319,323,322,320,320,320,319, 318,316.5,316,316.5,318,319,319.5,320,321.5,322,319],
[318,320,322,320,317,315,314.5,314,314.5,314.5, 314.5,316,318,320,321,321.5,319,319,319,320, 317,315.5,314.5,315,315.5,316,316,317,319,320, 320,321,322,323,320,317,315,314.5,315,315, 316,317,318,319,322,322,319.5,319,319,318, 317.5,316,315.5,315.5,317,317,318,319,320,321,318],
[318,320,321,319,316.5,315,315,314,313.5,315, 315.5,316,318,319,319.5,320,319,319,318,318, 317.5,315,314,313.5,314,317,317,317.5,319,319.5, 320,320,320,320,319,317,315,314,313.5,315, 316,317,318,319,320,320,320,319,318,318, 317,315,314.5,314,316,316,317,318,319,319.5,316],
[317,320,321,317.5,316.5,315.5,315,312,308.5,310.5, 314.5,315.5,317,317.5,317.5,318,317,316,317,317.5, 317.5,316,311.5,309.5,313,317,318,318,317.5,316, 315,317,318,318.5,317.5,317,315.5,310,310.5,314.5, 315.5,316,317,317.5,318,317,317,317.5,317,316, 315,314,310.5,310,316,317,317,317,316.5,316,312.5],
[314.5,317,317,315,314.5,313.5,313,310,null,null, 312.5,312.5,314,314.5,314.5,314.5,313,312.5,313,314.5, 315,314,null,null,310.5,312.5,314,314,312.5,312.5, 310.5,314,316,315.5,315,314,313,null,null,313, 313,313,314,314,313.5,312.5,312.5,315,316.5,313, 313,312.5,null,null,313,313,313.5,315,312.5,310.5,309]
];

const rowValues = [
  [maxPeak1, maxTrough1, maxPeak2],
  [minPeak1, minTrough1, minPeak2],
  [avgPeak1, avgTrough1, avgPeak2]
];
const valueNames = [["max-peak-1","max-trough-1","max-peak-2"],["min-peak-1","min-trough-1","min-peak-2"],["avg-peak-1","avg-trough-1","avg-peak-2"]];

const SVG_NS = "http://www.w3.org/2000/svg";
const INK = "#231f20";
const panelLeft = [314, 1477, 2640];
const panelTop = [38.5, 625.5, 1212.5];
const titleBottom = [471, 1047, 1641];
const panelWidth = 1036;
const panelHeight = 521.5;
const cbLeft = 570, cbRight = 3150, cbTop = 1973, cbBottom = 2009;

function make(tag, attrs, parent, txt) {
  const el = document.createElementNS(SVG_NS, tag);
  for (const k in attrs) el.setAttribute(k, attrs[k]);
  if (txt !== undefined) el.textContent = txt;
  parent.appendChild(el);
  return el;
}
function hexToRgb(h) {
  return [parseInt(h.slice(1,3),16), parseInt(h.slice(3,5),16), parseInt(h.slice(5,7),16)];
}
function colorFor(v) {
  if (v === null || v === undefined) return "#1f1f1f";
  const c = Math.max(colormap[0][0], Math.min(colormap[colormap.length-1][0], v));
  for (let i = 1; i < colormap.length; i++) {
    if (c <= colormap[i][0]) {
      const t = (c - colormap[i-1][0]) / (colormap[i][0] - colormap[i-1][0]);
      const a = hexToRgb(colormap[i-1][1]), b = hexToRgb(colormap[i][1]);
      return "rgb(" + [0,1,2].map(function(j){ return Math.round(a[j] + (b[j]-a[j])*t); }).join(",") + ")";
    }
  }
  return colormap[colormap.length-1][1];
}
function xAxis(col, i, nCols) { return panelLeft[col] + i * panelWidth / nCols; }
function yAxis(row, j, nRows) { return panelTop[row] + j * panelHeight / nRows; }
function cbAxis(v) {
  const lo = colorbarTicks[0], hi = colorbarTicks[colorbarTicks.length-1];
  return cbLeft + (v - lo) / (hi - lo) * (cbRight - cbLeft);
}
function nCols61() { return maxPeak1[0].length; }

const panels = document.getElementById("panels");
const labels = document.getElementById("labels");
const colorbar = document.getElementById("colorbar");

rowValues.forEach(function(rowSet, r) {
  rowSet.forEach(function(matrix, c) {
    const g = make("g", {}, panels);
    
    
    const nRows = matrix.length;
    matrix.forEach(function(rowData, j) {
      const nCols = rowData.length;
      rowData.forEach(function(v, i) {
        const x0 = xAxis(c, i, nCols), y0 = yAxis(r, j, nRows);
        const cell = make("rect", {
          x: x0.toFixed(2), y: y0.toFixed(2),
          width: (panelWidth / nCols).toFixed(2), height: (panelHeight / nRows).toFixed(2),
          fill: colorFor(v), stroke: INK, "stroke-width": v === null ? 0 : 1.7
        }, g);
        
        
      });
    });
    const frame = make("rect", {
      x: panelLeft[c], y: panelTop[r], width: panelWidth, height: panelHeight,
      fill: "none", stroke: INK, "stroke-width": 2.6
    }, g);
    
    

    if (r === rowValues.length - 1) {
      columnTickLabels.forEach(function(t) {
        const cx = xAxis(c, t - 0.5, nCols61());
        const xt = make("text", {
          transform: "translate(" + (cx + 23).toFixed(1) + ",1763) rotate(-90)",
          "text-anchor": "end", "font-size": 62
        }, labels, String(t));
        
        
      });
    }
    if (c === 0) {
      rowTickLabels.forEach(function(t) {
        const cy = yAxis(r, t - 0.5, nRows);
        const yt = make("text", {
          x: 295, y: (cy + 24).toFixed(1), "text-anchor": "end", "font-size": 65
        }, labels, String(t));
        
        
      });
    }
  });
});

columnTitles.forEach(function(title, c) {
  const t = make("text", {
    x: panelLeft[c] + panelWidth / 2, y: 1893, "text-anchor": "middle", "font-size": 72.5
  }, labels, title);
  
  
});
rowTitles.forEach(function(title, r) {
  const a = make("text", {
    transform: "translate(82," + titleBottom[r] + ") rotate(-90)", "text-anchor": "start", "font-size": 72
  }, labels, title);
  
  
  const b = make("text", {
    transform: "translate(184," + titleBottom[r] + ") rotate(-90)", "text-anchor": "start", "font-size": 70
  }, labels, "Row  No.");
  
  
});

const grad = document.getElementById("cbar-gradient");
colormap.forEach(function(s) {
  make("stop", { offset: ((s[0] - 300) / 50).toFixed(4), "stop-color": s[1] }, grad);
});
const cbRect = make("rect", {
  x: cbLeft, y: cbTop, width: cbRight - cbLeft, height: cbBottom - cbTop,
  fill: "url(#cbar-gradient)", stroke: INK, "stroke-width": 3
}, colorbar);


colorbarTicks.forEach(function(t) {
  const x = cbAxis(t);
  const tick = make("line", { x1: x, x2: x, y1: 1956, y2: cbBottom, stroke: INK, "stroke-width": 2 }, colorbar);
  
  
  const lab = make("text", { x: x, y: 2087, "text-anchor": "middle", "font-size": 64 }, colorbar, String(t));
  
  
});
const cbTitle = make("text", { x: (cbLeft + cbRight) / 2, y: 2164, "text-anchor": "middle", "font-size": 65.5 }, colorbar, "Temperature (K)");


</script>
</body>
</html>
